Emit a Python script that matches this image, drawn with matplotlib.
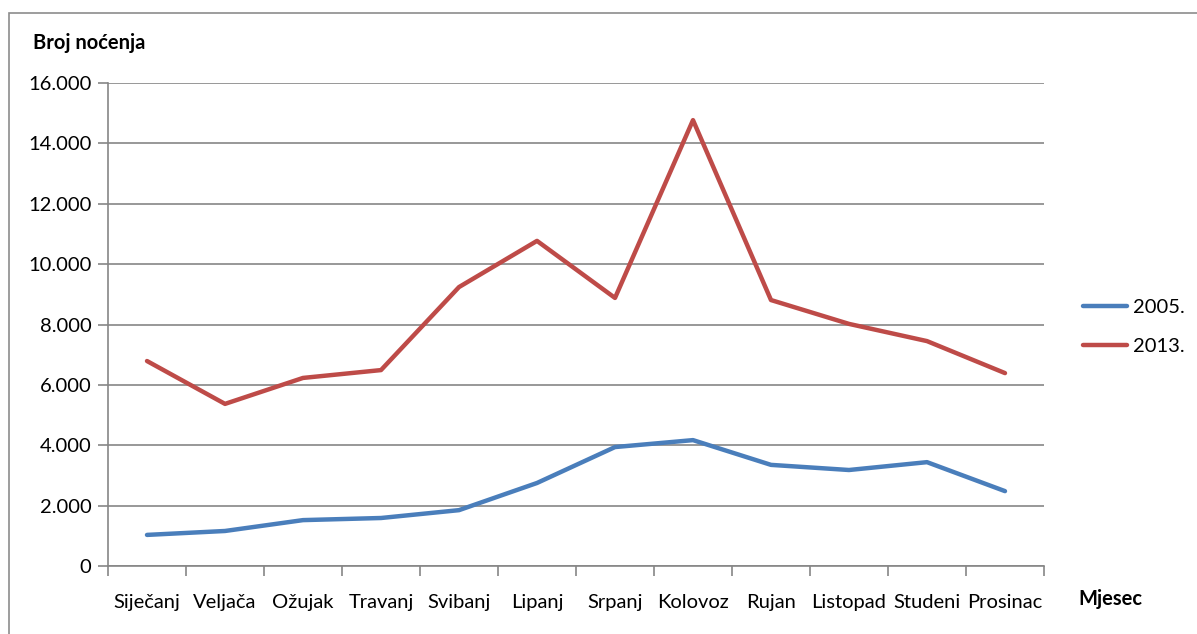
import matplotlib.pyplot as plt
from matplotlib.patches import Rectangle
from matplotlib.ticker import FuncFormatter
import numpy as np

plt.rcParams['font.family'] = ['Lato', 'DejaVu Sans']

months = ['Siječanj', 'Veljača', 'Ožujak', 'Travanj', 'Svibanj', 'Lipanj',
          'Srpanj', 'Kolovoz', 'Rujan', 'Listopad', 'Studeni', 'Prosinac']
y2005 = [1030, 1160, 1520, 1590, 1850, 2750, 3940, 4170, 3350, 3180, 3440, 2480]
y2013 = [6790, 5370, 6230, 6490, 9240, 10770, 8880, 14770, 8810, 8020, 7450, 6390]
series_labels = ['2005.', '2013.']

fig = plt.figure(figsize=(11.97, 6.34), dpi=100)
ax = fig.add_axes([108 / 1197, 1 - 566 / 634, (1044 - 108) / 1197, (566 - 83) / 634])

# outer chart frame (cut off at right and bottom like the source)
fig.patches.append(Rectangle((9 / 1197, -0.1), 1.2, 1 - 13 / 634 + 0.1,
                             transform=fig.transFigure, fill=False,
                             edgecolor='#8c8c8c', lw=1.2))

x = np.arange(len(months))
ax.plot(x, y2005, color='#4A7EBB', lw=3.2, label=series_labels[0], solid_capstyle='round')
ax.plot(x, y2013, color='#BE4B48', lw=3.2, label=series_labels[1], solid_capstyle='round')

ax.set_xlim(-0.5, len(months) - 0.5)
ax.set_ylim(0, 16000)
ax.set_yticks(np.arange(0, 16001, 2000))
ax.yaxis.set_major_formatter(FuncFormatter(lambda v, p: f'{int(v):,}'.replace(',', '.')))
ax.set_xticks(np.arange(-0.5, len(months), 1))
ax.set_xticklabels([])
ax.set_xticks(x, minor=True)
ax.set_xticklabels(months, minor=True)
ax.tick_params(axis='x', which='minor', length=0, pad=20, labelsize=14.5)
ax.tick_params(axis='x', which='major', length=7, color='#868686', width=1.2)
ax.tick_params(axis='y', length=7, color='#868686', width=1.2, labelsize=14.5, pad=5)

ax.grid(axis='y', color='#868686', lw=1.2)
ax.set_axisbelow(True)
for s in ['top', 'right']:
    ax.spines[s].set_visible(False)
for s in ['left', 'bottom']:
    ax.spines[s].set_color('#868686')
    ax.spines[s].set_linewidth(1.2)

fig.text(33 / 1197, 1 - 43 / 634, 'Broj noćenja', fontsize=14.5, fontweight='bold', va='center')
fig.text(1078 / 1197, 1 - 599 / 634, 'Mjesec', fontsize=14.5, fontweight='bold', va='center')

ax.legend(loc='center left', bbox_to_anchor=(1.022, 0.495), frameon=False,
          fontsize=14.5, handlelength=2.2, handletextpad=0.3, labelspacing=1.1)

fig.savefig('out.png', dpi=100)
